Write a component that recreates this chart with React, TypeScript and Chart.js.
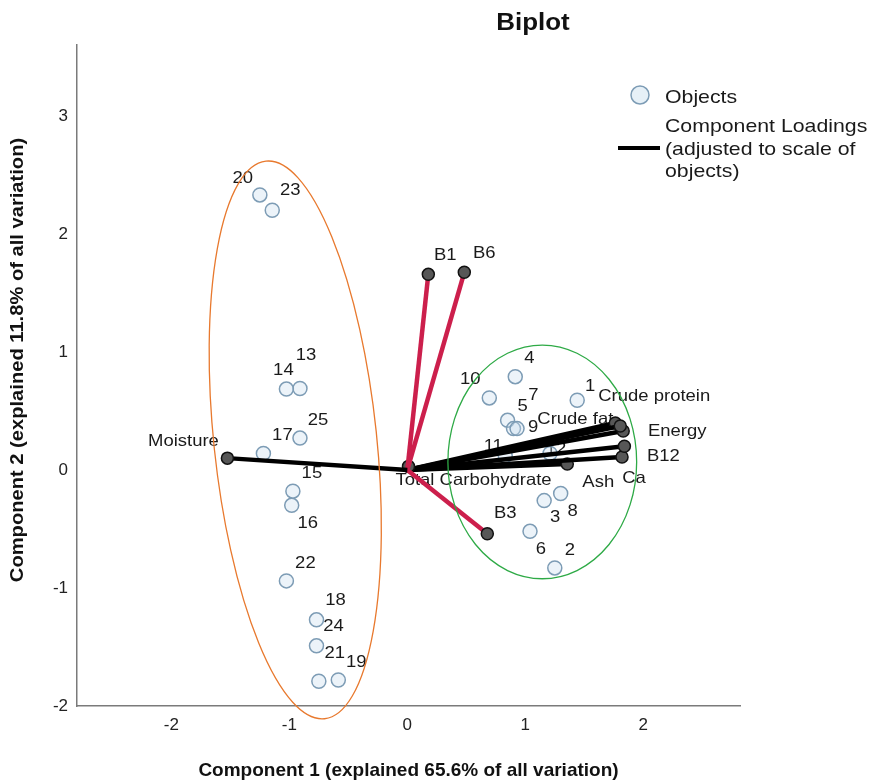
import React, { useEffect, useRef } from 'react';
import { Chart, registerables } from 'chart.js';

Chart.register(...registerables);

const FONT = '"Liberation Sans", Arial, Helvetica, sans-serif';

const xTicks = [-2, -1, 0, 1, 2];
const yTicks = [-2, -1, 0, 1, 2, 3];
const xRange = [-2.8, 2.82];
const yRange = [-2, 3.6];

const titleText = 'Biplot';
const xTitle = 'Component 1 (explained 65.6% of all variation)';
const yTitle = 'Component 2 (explained 11.8% of all variation)';
const legendObjects = 'Objects';
const legendLoadings = ['Component Loadings', '(adjusted to scale of', 'objects)'];

// Objects (cases)
const objectLabels = ['1','2','3','4','5','6','7','8','9','10','11','12','13','14','15','16','17','18','19','20','21','22','23','24','25'];
const objectX = [1.44, 1.25, 1.16, 0.915, 0.85, 1.04, 0.90, 1.30, 0.93, 0.695, 0.83, 1.21, -0.91, -1.025, -0.97, -0.98, -1.22, -0.77, -0.585, -1.25, -0.75, -1.025, -1.145, -0.77, -0.91];
const objectY = [0.59, -0.83, -0.26, 0.79, 0.42, -0.52, 0.35, -0.20, 0.35, 0.61, 0.12, 0.14, 0.69, 0.685, -0.18, -0.30, 0.14, -1.27, -1.78, 2.33, -1.79, -0.94, 2.20, -1.49, 0.27];

// Component loadings (adjusted to scale of objects)
const loadingNames = ['Moisture', 'B1', 'B6', 'B3', 'Total Carbohydrate', 'Crude protein', 'Crude fat', 'Energy', 'B12', 'Ca', 'Ash'];
const loadingX = [-1.525, 0.178, 0.483, 0.678, 0.01, 1.805, 1.763, 1.83, 1.84, 1.82, 1.356];
const loadingY = [0.10, 1.657, 1.674, -0.54, 0.03, 0.372, 0.397, 0.33, 0.20, 0.11, 0.05];
const loadingGroup = ['black', 'red', 'red', 'red', 'black', 'black', 'black', 'black', 'black', 'black', 'black'];

// label placement (pixel offsets of text centre from the mark) – layout only
const objectLabelOffsets: [number, number][] = [
  [13, -14], [15, -17], [11, 17], [14, -18], [15, -14], [11, 18], [20, -33], [12, 18], [16, -1], [-19, -18],
  [-12, -9], [6, -4], [6, -33], [-3, -19], [19, -18], [16, 18], [19, -18], [19, -19], [18, -18], [-17, -16],
  [16, -28], [19, -17], [18, -20], [17, -19], [18, -18],
];
const loadingLabelOffsets: [number, number][] = [
  [-44, -17], [17, -19], [20, -19], [18, -20], [65, 14], [34, -30], [-40, -4], [54, 0], [39, 10], [12, 22], [31, 18],
];

// group ellipses (data units)
const ellipseCx = [-0.95, 1.144];
const ellipseCy = [0.254, 0.068];
const ellipseRx = [0.69, 0.80];
const ellipseRy = [2.375, 0.99];
const ellipseRotDeg = [-6, 0];
const ellipseColors = ['#e8792e', '#2eaa46'];

const RED = '#cc1f4c';
const STRETCH = 1.12;

function fillStretched(ctx: CanvasRenderingContext2D, text: string, x: number, y: number, sx: number) {
  ctx.save();
  ctx.translate(x, y);
  ctx.scale(sx, 1);
  ctx.fillText(text, 0, 0);
  ctx.restore();
}

export default function App() {
  const ref = useRef<HTMLCanvasElement>(null);

  useEffect(() => {
    if (!ref.current) return;

    const objectData = objectX.map((x, i) => ({ x, y: objectY[i] }));
    const loadingDatasets = loadingNames.map((n, i) => ({
      label: n,
      data: [{ x: 0, y: 0 }, { x: loadingX[i], y: loadingY[i] }],
      showLine: true,
      borderColor: loadingGroup[i] === 'red' ? RED : '#000000',
      borderWidth: 4.5,
      pointRadius: [0, 6],
      pointHoverRadius: [0, 6],
      pointBackgroundColor: '#575757',
      pointBorderColor: '#111111',
      pointBorderWidth: 1.5,
      order: 1,
    }));

    const annot = {
      id: 'annot',
      beforeDatasetsDraw(chart: any) {
        const { ctx, scales } = chart;
        const xs = scales.x, ys = scales.y;
        ctx.save();
        ctx.font = `16.5px ${FONT}`;
        ctx.fillStyle = '#1a1a1a';
        ctx.textAlign = 'center';
        ctx.textBaseline = 'middle';
        objectLabels.forEach((lab, i) => {
          const px = xs.getPixelForValue(objectX[i]) + objectLabelOffsets[i][0];
          const py = ys.getPixelForValue(objectY[i]) + objectLabelOffsets[i][1];
          fillStretched(ctx, lab, px, py, STRETCH);
        });
        loadingNames.forEach((lab, i) => {
          const px = xs.getPixelForValue(loadingX[i]) + loadingLabelOffsets[i][0];
          const py = ys.getPixelForValue(loadingY[i]) + loadingLabelOffsets[i][1];
          fillStretched(ctx, lab, px, py, STRETCH);
        });
        ctx.restore();
      },
      afterDatasetsDraw(chart: any) {
        const { ctx, scales } = chart;
        const xs = scales.x, ys = scales.y;
        ctx.save();
        ellipseCx.forEach((cx, i) => {
          const cpx = xs.getPixelForValue(cx);
          const cpy = ys.getPixelForValue(ellipseCy[i]);
          const rxp = Math.abs(xs.getPixelForValue(cx + ellipseRx[i]) - cpx);
          const ryp = Math.abs(ys.getPixelForValue(ellipseCy[i] + ellipseRy[i]) - cpy);
          ctx.beginPath();
          ctx.ellipse(cpx, cpy, rxp, ryp, (ellipseRotDeg[i] * Math.PI) / 180, 0, Math.PI * 2);
          ctx.strokeStyle = ellipseColors[i];
          ctx.lineWidth = 1.3;
          ctx.stroke();
        });
        ctx.restore();
      },
      afterDraw(chart: any) {
        const { ctx, chartArea } = chart;
        ctx.save();
        // title
        ctx.font = `bold 24px ${FONT}`;
        ctx.fillStyle = '#111';
        ctx.textAlign = 'center';
        ctx.textBaseline = 'middle';
        fillStretched(ctx, titleText, chartArea.right - 207, 15, 1.08);
        // y axis title
        ctx.save();
        ctx.translate(10, chartArea.top + 315);
        ctx.rotate(-Math.PI / 2);
        ctx.font = `bold 19px ${FONT}`;
        fillStretched(ctx, yTitle, 0, 0, 1.06);
        ctx.restore();
        // legend
        const lx = chartArea.right - 100;
        const ly = chartArea.top + 50;
        ctx.beginPath();
        ctx.arc(lx, ly, 9, 0, Math.PI * 2);
        ctx.fillStyle = 'rgba(200,222,238,0.45)';
        ctx.fill();
        ctx.strokeStyle = '#7d9cb5';
        ctx.lineWidth = 1.5;
        ctx.stroke();
        ctx.font = `19px ${FONT}`;
        ctx.fillStyle = '#1a1a1a';
        ctx.textAlign = 'left';
        fillStretched(ctx, legendObjects, lx + 25, ly + 3, STRETCH);
        ctx.beginPath();
        ctx.moveTo(lx - 22, ly + 53);
        ctx.lineTo(lx + 20, ly + 53);
        ctx.strokeStyle = '#000';
        ctx.lineWidth = 4;
        ctx.stroke();
        legendLoadings.forEach((t, k) => {
          fillStretched(ctx, t, lx + 25, ly + 32 + k * 22.5, STRETCH);
        });
        ctx.restore();
      },
    };

    const chart = new Chart(ref.current, {
      type: 'scatter',
      data: {
        datasets: [
          ...(loadingDatasets as any[]),
          {
            label: 'Objects',
            data: objectData,
            pointRadius: 7,
            pointHoverRadius: 7,
            pointBackgroundColor: 'rgba(200,222,238,0.35)',
            pointBorderColor: '#7d9cb5',
            pointBorderWidth: 1.5,
            order: 10,
          },
        ],
      },
      options: {
        animation: false,
        responsive: true,
        maintainAspectRatio: false,
        layout: { padding: { left: 0, right: 130, top: 37, bottom: 0 } },
        plugins: { legend: { display: false }, tooltip: { enabled: false }, title: { display: false } },
        scales: {
          x: {
            type: 'linear',
            min: xRange[0],
            max: xRange[1],
            afterBuildTicks: (s: any) => { s.ticks = xTicks.map((v) => ({ value: v })); },
            afterFit: (s: any) => { s.height = 78; },
            grid: { display: false, drawTicks: false },
            border: { display: true, color: '#7a7a7a', width: 1.5 },
            ticks: { font: { family: FONT, size: 17 }, color: '#222', padding: 9 },
            title: { display: true, text: xTitle, font: { family: FONT, size: 19, weight: 'bold', lineHeight: 1 }, color: '#111', padding: { top: 0, bottom: 4 } },
          },
          y: {
            type: 'linear',
            min: yRange[0],
            max: yRange[1],
            afterBuildTicks: (s: any) => { s.ticks = yTicks.map((v) => ({ value: v })); },
            afterFit: (s: any) => { s.width = 69; },
            grid: { display: false, drawTicks: false },
            border: { display: true, color: '#7a7a7a', width: 1.5 },
            ticks: { font: { family: FONT, size: 17 }, color: '#222', padding: 9 },
            title: { display: false },
          },
        },
      } as any,
      plugins: [annot],
    });

    return () => chart.destroy();
  }, []);

  return (
    <div style={{ width: 862, height: 776 }}>
      <canvas ref={ref} />
    </div>
  );
}
